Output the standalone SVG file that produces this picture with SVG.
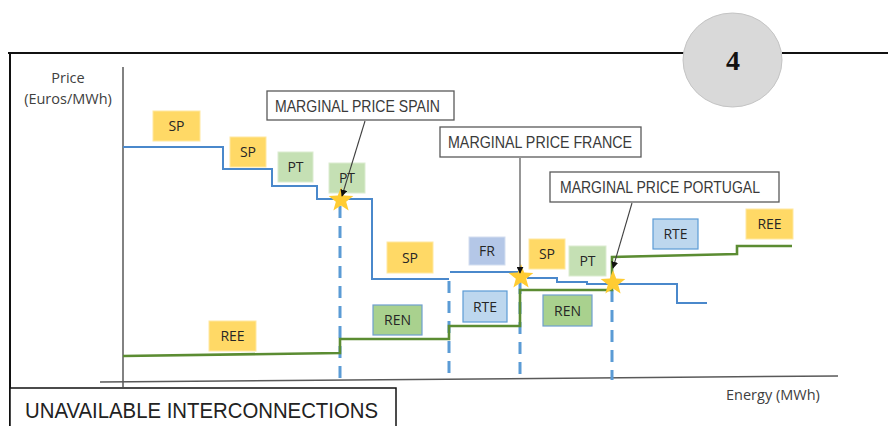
<svg xmlns="http://www.w3.org/2000/svg" width="888" height="426" viewBox="0 0 888 426">
<style>
.lbl{font-family:"Open Sans","Noto Sans",sans-serif;font-size:14px;fill:#262626;text-anchor:middle}
.ax{font-family:"Open Sans","Noto Sans",sans-serif;font-size:14.5px;fill:#404040}
.call{font-family:"Liberation Sans",Arial,sans-serif;font-size:16.5px;fill:#3a3a3a}
.cbox{fill:#fff;stroke:#595959;stroke-width:1.3}
.sp{fill:#ffd966;stroke:#ffe8a0;stroke-width:1}
.pt{fill:#c5e0b4;stroke:#dbecd0;stroke-width:1}
.fr{fill:#b4c7e7;stroke:#d3def0;stroke-width:1}
.rte{fill:#bdd7ee;stroke:#5b9bd5;stroke-width:1.2}
.ren{fill:#a9d18e;stroke:#6f9fcf;stroke-width:1.2}
.blue{fill:none;stroke:#4a88cb;stroke-width:2}
.green{fill:none;stroke:#5b8c32;stroke-width:2.6}
.dash{fill:none;stroke:#5b9bd5;stroke-width:3;stroke-dasharray:12 8}
.lead{fill:none;stroke:#404040;stroke-width:1.1;marker-end:url(#arr)}
.star{fill:#ffcc33}
</style>
<defs>
<marker id="arr" viewBox="0 0 10 10" refX="9" refY="5" markerWidth="7" markerHeight="7" orient="auto" markerUnits="userSpaceOnUse">
<path d="M0,0 L10,5 L0,10 z" fill="#111"/>
</marker>
<path id="starShape" d="M0,-13 L3.2,-4.4 L12.36,-4.02 L5.16,1.68 L7.64,10.52 L0,5.42 L-7.64,10.52 L-5.16,1.68 L-12.36,-4.02 L-3.2,-4.4 Z"/>
</defs>
<rect width="888" height="426" fill="#fff"/>

<g id="frame">
<path d="M8,53 H684 M782,53 H888 M10,52 V426" stroke="#111" stroke-width="2" fill="none"/>
</g>

<g id="badge">
<ellipse cx="732.5" cy="60" rx="49.5" ry="47" fill="#d9d9d9" stroke="#c4c4c4" stroke-width="1"/>
<text x="733" y="70" font-family="'Liberation Serif','Times New Roman',serif" font-weight="bold" font-size="28" text-anchor="middle" fill="#111">4</text>
</g>

<g id="axes">
<path d="M123,67 V387" stroke="#595959" stroke-width="1.5" fill="none"/>
<path d="M100,382 L838,376" stroke="#595959" stroke-width="1.5" fill="none"/>
<text class="ax" x="68" y="83" text-anchor="middle">Price</text>
<text class="ax" x="68" y="104" text-anchor="middle">(Euros/MWh)</text>
<text class="ax" x="726" y="400">Energy (MWh)</text>
</g>

<g id="dashes">
<path class="dash" d="M340,206 V380"/>
<path class="dash" d="M449,281 V380"/>
<path class="dash" d="M520,282 V380"/>
<path class="dash" d="M612,290 V380"/>
</g>

<g id="labels">
<g id="sp1"><rect class="sp" x="153" y="111" width="47" height="30"/><text class="lbl" x="176.5" y="131">SP</text></g>
<g id="sp2"><rect class="sp" x="230" y="137" width="36" height="30"/><text class="lbl" x="248" y="157">SP</text></g>
<g id="pt1"><rect class="pt" x="278" y="152" width="35" height="30"/><text class="lbl" x="295.5" y="172">PT</text></g>
<g id="pt2"><rect class="pt" x="329" y="163" width="36" height="30"/><text class="lbl" x="347" y="183">PT</text></g>
<g id="sp3"><rect class="sp" x="387" y="242" width="46" height="31"/><text class="lbl" x="410" y="262.5">SP</text></g>
<g id="fr"><rect class="fr" x="469" y="237" width="36" height="28"/><text class="lbl" x="487" y="256">FR</text></g>
<g id="sp4"><rect class="sp" x="529" y="239" width="36" height="30"/><text class="lbl" x="547" y="259">SP</text></g>
<g id="pt3"><rect class="pt" x="569" y="246" width="37" height="30"/><text class="lbl" x="587.5" y="266">PT</text></g>
<g id="rte1"><rect class="rte" x="463" y="291" width="44" height="31"/><text class="lbl" x="485" y="311.5">RTE</text></g>
<g id="ren2"><rect class="ren" x="543" y="295" width="49" height="31"/><text class="lbl" x="567.5" y="315.5">REN</text></g>
<g id="ren1"><rect class="ren" x="373" y="305" width="49" height="30"/><text class="lbl" x="397.5" y="325">REN</text></g>
<g id="ree1"><rect class="sp" x="209" y="321" width="47" height="30"/><text class="lbl" x="232.5" y="341">REE</text></g>
<g id="rte2"><rect class="rte" x="653" y="219" width="45" height="30"/><text class="lbl" x="675.5" y="239">RTE</text></g>
<g id="ree2"><rect class="sp" x="746" y="209" width="47" height="30"/><text class="lbl" x="769.5" y="229">REE</text></g>
</g>

<g id="curves">
<path class="blue" d="M123,147 H223 V169 H272 V186 H317 V199 H372 V279 H449"/>
<path class="blue" d="M450,272 H522"/>
<path class="blue" d="M527,278 H557 V282 H587 V284 H677 V303 H707"/>
<path class="green" d="M123,356 L340,353 V339 H449 V326 H520 V290 H612 V257 L737,254 V246 H792"/>
</g>

<g id="stars">
<use href="#starShape" class="star" x="341" y="200"/>
<use href="#starShape" class="star" x="521" y="277"/>
<use href="#starShape" class="star" x="613" y="283"/>
</g>

<g id="callout-spain">
<rect class="cbox" x="267" y="91" width="187" height="29"/>
<text class="call" x="275" y="112" textLength="165" lengthAdjust="spacingAndGlyphs">MARGINAL PRICE SPAIN</text>
</g>
<g id="callout-france">
<rect class="cbox" x="440" y="127" width="201" height="30"/>
<text class="call" x="448" y="148" textLength="184" lengthAdjust="spacingAndGlyphs">MARGINAL PRICE FRANCE</text>
</g>
<g id="callout-portugal">
<rect class="cbox" x="550" y="172" width="229" height="30"/>
<text class="call" x="560" y="193" textLength="200" lengthAdjust="spacingAndGlyphs">MARGINAL PRICE PORTUGAL</text>
</g>

<g id="connectors">
<path class="lead" d="M365,121 L342,196"/>
<path class="lead" d="M520,158 L520,273"/>
<path class="lead" d="M632,203 L613,268"/>
</g>

<g id="unavailable">
<rect x="10" y="388" width="386" height="44" fill="#fff" stroke="#111" stroke-width="1.5"/>
<text x="25" y="418" font-family="'Liberation Sans',Arial,sans-serif" font-size="22" fill="#222" textLength="353" lengthAdjust="spacingAndGlyphs">UNAVAILABLE INTERCONNECTIONS</text>
</g>
</svg>
